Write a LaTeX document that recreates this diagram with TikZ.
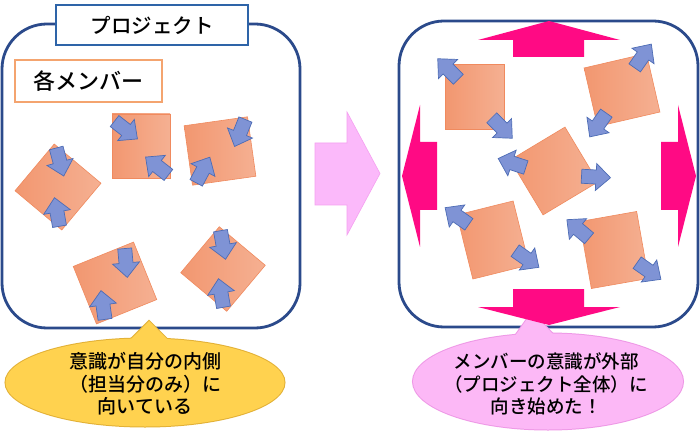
\documentclass[tikz,border=0pt]{standalone}
\usepackage{fontspec}
\newfontfamily\jp{Noto Sans CJK JP Medium}
\definecolor{navy}{HTML}{2B4A8B}
\definecolor{titleblue}{HTML}{2E64A8}
\definecolor{memorange}{HTML}{F4A46F}
\definecolor{sqA}{HTML}{F29770}
\definecolor{sqB}{HTML}{F5B092}
\definecolor{sqline}{HTML}{F08A5E}
\definecolor{arwfill}{HTML}{7F93D5}
\definecolor{arwline}{HTML}{4D6CB5}
\definecolor{magenta}{HTML}{FF0A84}
\definecolor{lpink}{HTML}{FBB9FA}
\definecolor{lpinkline}{HTML}{F5A0F0}
\definecolor{cyellow}{HTML}{FFD24F}
\definecolor{cyellowline}{HTML}{E2B035}
\definecolor{cpink}{HTML}{FCB8F6}
\definecolor{cpinkline}{HTML}{EE98E6}
\tikzset{
  panel/.style={draw=navy, line width=2.8pt, rounded corners=45pt},
  labelbox/.style={fill=white, line width=2.8pt, inner sep=0pt},
  sqstyle/.style={draw=sqline, line width=0.6pt, left color=sqA, right color=sqB},
  arwstyle/.style={fill=arwfill, draw=arwline, line width=0.7pt},
  bigarw/.style={fill=magenta},
  jptext/.style={align=center, text=black},
}
\newcommand\msq[5]{\begin{scope}[shift={(#1,#2)},rotate=#3]
  \draw[sqstyle] (-#4/2,-#5/2) rectangle (#4/2,#5/2);\end{scope}}
\newcommand\barw[3]{\begin{scope}[shift={(#1,#2)},rotate=#3]
  \draw[arwstyle] (-14.5,-7) -- (0,-7) -- (0,-13.5) -- (14.5,0) -- (0,13.5) -- (0,7) -- (-14.5,7) -- cycle;\end{scope}}
\begin{document}
\begin{tikzpicture}[x=1pt,y=-1pt]
\useasboundingbox (0,0) rectangle (700,435);
\fill[white] (0,0) rectangle (700,435);

% ---------- left panel ----------
\draw[panel] (2,24) rectangle (300,328);
\node[labelbox, draw=titleblue, minimum width=192pt, minimum height=40pt] (proj) at (152,25)
  {\jp\fontsize{20.5}{24}\selectfont プロジェクト};
\node[labelbox, draw=memorange, minimum width=147pt, minimum height=42pt] (mem) at (88.5,81)
  {\jp\fontsize{22}{26}\selectfont 各メンバー};

\msq{141}{146}{0}{58}{64}
\msq{220}{151}{8}{64}{60}
\msq{58}{187}{-40}{61}{61}
\msq{115}{283}{22}{65}{62}
\msq{223}{269}{-40}{60}{60}

\barw{126}{130}{-38}
\barw{157}{166}{142}
\barw{240}{133}{-112}
\barw{203}{170}{62}
\barw{60}{162}{-75}
\barw{57}{212}{100}
\barw{126}{263}{-85}
\barw{103}{305}{98}
\barw{223}{245}{-80}
\barw{221}{293}{100}

% ---------- middle arrow ----------
\draw[fill=lpink, draw=lpinkline, line width=0.6pt] (315,143) -- (347,143) -- (347,112) -- (380,173.5)
  -- (347,235) -- (347,205) -- (315,205) -- cycle;

% ---------- right panel ----------
\draw[panel] (399,21) rectangle (698,327);

\msq{475}{97}{0}{59}{65}
\msq{622}{90}{13}{64}{60}
\msq{554}{171}{31}{64}{64}
\msq{493}{240}{14}{58}{66}
\msq{614}{250}{10}{58}{68}

\barw{448}{69}{135}
\barw{502}{128}{-45}
\barw{643}{56}{55}
\barw{598}{125}{-125}
\barw{512}{163}{162}
\barw{596}{177}{-3}
\barw{457}{216}{145}
\barw{527}{259}{-35}
\barw{578}{229}{140}
\barw{649}{271}{-35}

% ---------- callouts ----------
\draw[cyellowline, line width=2pt] (149,321) -- (120,350) -- (178,350) -- cycle;
\draw[cyellowline, line width=2pt] (145,382.5) ellipse [x radius=139.5, y radius=44];
\fill[cyellow] (149,321) -- (120,350) -- (178,350) -- cycle;
\fill[cyellow] (145,382.5) ellipse [x radius=139.5, y radius=44];
\node[jptext, font=\jp\fontsize{19}{22.5}\selectfont] (lcall) at (145,384) {意識が自分の内側\\（担当分のみ）に\\向いている};

\draw[cpinkline, line width=2pt] (532,312) -- (505,350) -- (568,350) -- cycle;
\draw[cpinkline, line width=2pt] (548,381.5) ellipse [x radius=135, y radius=48];
\fill[cpink] (532,312) -- (505,350) -- (568,350) -- cycle;
\fill[cpink] (548,381.5) ellipse [x radius=135, y radius=48];
\node[jptext, font=\jp\fontsize{18.5}{22.5}\selectfont] (rcall) at (546,384) {メンバーの意識が外部\\（プロジェクト全体）に\\向き始めた！};

% ---------- magenta arrows ----------
\fill[bigarw] (513,57) -- (513,40) -- (478,40) -- (549,21) -- (620,40) -- (584,40) -- (584,57) -- cycle;
\fill[bigarw] (513,289) -- (513,307) -- (478,307) -- (549,325) -- (620,307) -- (584,307) -- (584,289) -- cycle;
\fill[bigarw] (437,142) -- (420,142) -- (420,105) -- (402,176) -- (420,247) -- (420,210) -- (437,210) -- cycle;
\fill[bigarw] (661,142) -- (678,142) -- (678,105) -- (696,176) -- (678,247) -- (678,210) -- (661,210) -- cycle;
\end{tikzpicture}
\end{document}
